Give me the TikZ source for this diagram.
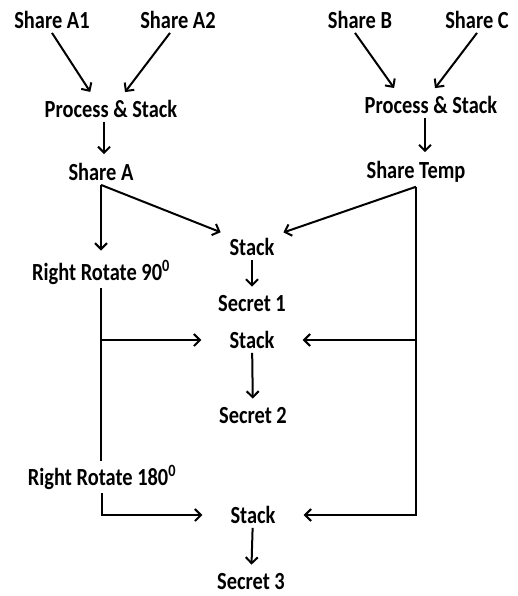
\documentclass[tikz,border=0pt]{standalone}
\usepackage{fontspec}
\setmainfont[FakeStretch=0.83]{Carlito}
\usetikzlibrary{arrows.meta}
\begin{document}
\begin{tikzpicture}[
  x=1pt, y=-1pt,
  lab/.style={inner sep=4pt, font=\fontsize{24.6}{28}\selectfont\bfseries},
  e/.style={line width=2pt},
  arr/.style={e, -{Straight Barb[length=6pt,width=12pt]}, shorten >=5pt},
  side/.style={arr, shorten >=24pt}
]
\useasboundingbox (0,0) rectangle (517,596);

\node[lab] (a1) at (52,20) {Share A1};
\node[lab] (a2) at (178,20) {Share A2};
\node[lab] (b) at (360,20) {Share B};
\node[lab] (c) at (477,20) {Share C};

\node[lab] (ps1) at (111,109) {Process \& Stack};
\node[lab] (ps2) at (431,105) {Process \& Stack};

\node[lab] (sa) at (101,172) {Share A};
\node[lab] (st) at (416,172) {Share Temp};

\node[lab] (rr90) at (101,272) {Right Rotate 90\textsuperscript{0}};
\node[lab] (rr180) at (102,477) {Right Rotate 180\textsuperscript{0}};

\node[lab] (k1) at (252,247) {Stack};
\node[lab] (s1) at (252,304) {Secret 1};
\node[lab] (k2) at (252,340) {Stack};
\node[lab] (s2) at (253,416) {Secret 2};
\node[lab] (k3) at (253,515) {Stack};
\node[lab] (s3) at (251,582) {Secret 3};

\draw[arr] (a1.south) -- ([xshift=-18pt]ps1.north);
\draw[arr] ([xshift=-8pt]a2.south) -- ([xshift=11pt]ps1.north);
\draw[arr] ([xshift=-5pt]b.south) -- ([xshift=-34pt]ps2.north);
\draw[arr] (c.south) -- ([xshift=1pt]ps2.north);

\draw[arr] ([xshift=-7pt]ps1.south) -- ([xshift=-7pt]ps1.south |- sa.north);
\draw[arr] ([xshift=-6pt]ps2.south) -- ([xshift=-6pt]ps2.south |- st.north);

\draw[arr] (sa.south) -- (k1.north west);
\draw[arr] (sa.south) -- (rr90.north);
\draw[arr] (st.south) -- (k1.north east);

\draw[e] (rr90.south) -- (rr90.south |- rr180.north);
\draw[side] (rr90.south |- k2) -- (k2);
\draw[side] (rr180.south) |- (k3);
\draw[side] (st.south |- k2) -- (k2);
\draw[side] (st.south) |- (k3);

\draw[arr] (k1) -- (s1);
\draw[arr] (k2) -- (s2);
\draw[arr] (k3) -- (s3);
\end{tikzpicture}
\end{document}
